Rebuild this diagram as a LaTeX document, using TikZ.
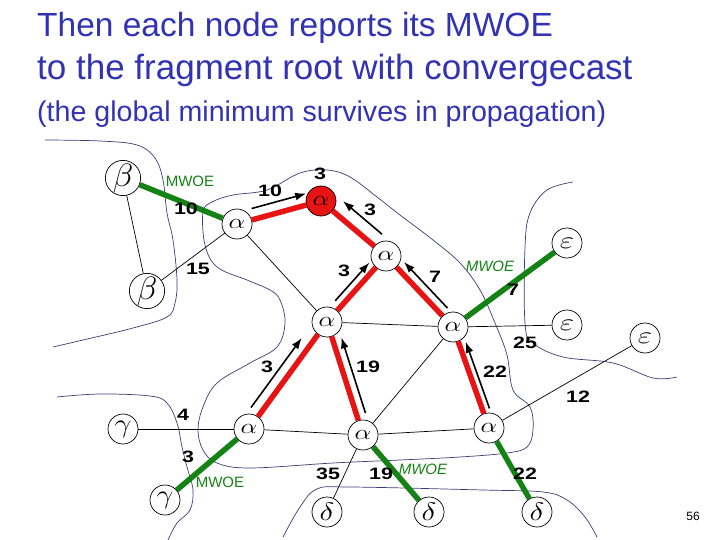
\documentclass[tikz,border=0pt]{standalone}
\usepackage{fontspec}
\usepackage{graphicx}
\setmainfont{Liberation Sans}
\usetikzlibrary{arrows.meta,calc}
\definecolor{titleblue}{RGB}{50,50,180}
\definecolor{mwoegreen}{RGB}{20,130,20}
\definecolor{tred}{RGB}{232,20,20}
\definecolor{bndcol}{RGB}{60,60,120}
\newcommand\wn[1]{\scalebox{1.3}[1]{#1}}
\newcommand\myalpha{\raisebox{-1.5pt}{\scalebox{2.2}[1.75]{$\alpha$}}}
\newcommand\mybeta{\scalebox{2.8}[2.7]{$\beta$}}
\newcommand\mygamma{\scalebox{2.5}[2.2]{$\gamma$}}
\newcommand\mydelta{\scalebox{2.6}[2.1]{$\delta$}}
\newcommand\myeps{\scalebox{2.6}[2.0]{$\varepsilon$}}
\begin{document}
\begin{tikzpicture}[x=1pt,y=-1pt,
  vtx/.style={circle,draw,line width=0.7pt,minimum size=30pt,inner sep=0pt,fill=white,font=\fontsize{12}{12}\selectfont},
  avtx/.style={vtx},
  rootvtx/.style={avtx,fill=tred},
  thinedge/.style={line width=0.7pt},
  tree/.style={tred,line width=5.5pt},
  mwoe/.style={mwoegreen,line width=5.5pt},
  rep/.style={-{Latex[length=11pt,width=8pt]},line width=1.6pt},
  wlab/.style={font=\fontsize{16.5}{16.5}\selectfont\bfseries,inner sep=0pt},
  mlab/.style={text=mwoegreen,font=\fontsize{15}{15}\selectfont,inner sep=0pt},
  ttl/.style={text=titleblue,anchor=base west,inner sep=0pt},
  bnd/.style={bndcol,line width=0.7pt}]
\useasboundingbox (0,0) rectangle (720,540);

% title
\node[ttl,font=\fontsize{33.5}{33.5}\selectfont] (t1) at (37,37) {Then each node reports its MWOE};
\node[ttl,font=\fontsize{35}{35}\selectfont] (t2) at (37,80) {to the fragment root with convergecast};
\node[ttl,font=\fontsize{28.6}{28.6}\selectfont] (t3) at (37,122) {(the global minimum survives in propagation)};

% fragment boundaries
\draw[bnd] plot[smooth,tension=0.6] coordinates {(45,140) (100,141) (137,145) (155,158) (163,180) (167,213) (173,240) (177,280) (175,303) (167,317) (133,328) (83,340) (53,347)};
\draw[bnd] plot[smooth cycle,tension=0.6] coordinates {(203,212) (212,202) (233,195) (267,190) (300,173) (327,170) (350,177) (377,197) (400,215) (433,240) (460,263) (480,290) (495,323) (507,355) (513,390) (530,407) (533,430) (527,447) (507,453) (460,457) (400,460) (333,463) (250,468) (217,463) (203,450) (198,430) (203,407) (217,383) (250,363) (277,347) (285,323) (280,300) (270,290) (247,280) (217,267) (205,245)};
\draw[bnd] plot[smooth,tension=0.6] coordinates {(57,397) (100,394) (150,396) (167,403) (177,423) (182,447) (187,467) (193,490) (190,510) (177,523) (168,540)};
\draw[bnd] plot[smooth,tension=0.6] coordinates {(573,182) (547,190) (530,213) (525,247) (525,323) (533,343) (563,357) (613,363) (653,378) (677,377)};
\draw[bnd] plot[smooth,tension=0.6] coordinates {(283,537) (300,507) (317,489) (350,487) (483,490) (543,492) (567,500) (585,517) (597,537)};

% nodes
\node[vtx] (b1) at (123,178) {\mybeta};
\node[vtx] (b2) at (147,291) {\mybeta};
\node[avtx] (a1) at (237,224) {\myalpha};
\node[rootvtx] (root) at (321,201) {\myalpha};
\node[avtx] (a2) at (386,256) {\myalpha};
\node[avtx] (a3) at (327,322) {\myalpha};
\node[avtx] (a4) at (453,327) {\myalpha};
\node[vtx] (e1) at (567,243) {\myeps};
\node[vtx] (e2) at (567,325) {\myeps};
\node[vtx] (e3) at (645,338) {\myeps};
\node[avtx] (a5) at (249,429) {\myalpha};
\node[avtx] (a6) at (363,435) {\myalpha};
\node[avtx] (a7) at (489,428) {\myalpha};
\node[vtx] (g1) at (123,429) {\mygamma};
\node[vtx] (g2) at (165,500) {\mygamma};
\node[vtx] (d1) at (327,512) {\mydelta};
\node[vtx] (d2) at (429,512) {\mydelta};
\node[vtx] (d3) at (537,512) {\mydelta};

% thin edges
\draw[thinedge] (b1) -- (b2);
\draw[thinedge] (b2) -- (a1);
\draw[thinedge] (a1) -- (a3);
\draw[thinedge] (a3) -- (a4);
\draw[thinedge] (a4) -- (e2);
\draw[thinedge] (a4) -- (a6);
\draw[thinedge] (a5) -- (g1);
\draw[thinedge] (a5) -- (a6);
\draw[thinedge] (a6) -- (a7);
\draw[thinedge] (a6) -- (d1);
\draw[thinedge] (a7) -- (e3);

% tree edges
\draw[tree] (a1) -- (root);
\draw[tree] (root) -- (a2);
\draw[tree] (a2) -- (a3);
\draw[tree] (a2) -- (a4);
\draw[tree] (a3) -- (a5);
\draw[tree] (a3) -- (a6);
\draw[tree] (a4) -- (a7);

% MWOE edges
\draw[mwoe] (b1) -- (a1);
\draw[mwoe] (a4) -- (e1);
\draw[mwoe] (a5) -- (g2);
\draw[mwoe] (a6) -- (d2);
\draw[mwoe] (a7) -- (d3);

% report arrows
\draw[rep] ($(a1)!0.21!(root)+(-3.1,-10.6)$) -- ($(a1)!0.86!(root)+(-3.1,-10.6)$);
\draw[rep] ($(a2)!0.20!(root)+(9,-10.8)$) -- ($(a2)!0.80!(root)+(9,-10.8)$);
\draw[rep] ($(a3)!0.24!(a2)+(-6,-5.3)$) -- ($(a3)!0.82!(a2)+(-6,-5.3)$);
\draw[rep] ($(a4)!0.18!(a2)+(6.6,-6.1)$) -- ($(a4)!0.83!(a2)+(6.6,-6.1)$);
\draw[rep] ($(a5)!0.14!(a3)+(-8.9,-6.5)$) -- ($(a5)!0.79!(a3)+(-8.9,-6.5)$);
\draw[rep] ($(a6)!0.17!(a3)+(8.6,-2.7)$) -- ($(a6)!0.84!(a3)+(8.6,-2.7)$);
\draw[rep] ($(a7)!0.17!(a4)+(6.6,-2.4)$) -- ($(a7)!0.83!(a4)+(6.6,-2.4)$);

% weights
\node[wlab] (w1) at (186,209) {\wn{10}};
\node[wlab] (w2) at (270,191) {\wn{10}};
\node[wlab] (w3) at (320,174) {\wn{3}};
\node[wlab] (w4) at (370,210) {\wn{3}};
\node[wlab] (w5) at (198,269) {\wn{15}};
\node[wlab] (w6) at (344,271) {\wn{3}};
\node[wlab] (w7) at (435,277) {\wn{7}};
\node[wlab] (w8) at (513,290) {\wn{7}};
\node[wlab] (w9) at (525,343) {\wn{25}};
\node[wlab] (w10) at (368,367) {\wn{19}};
\node[wlab] (w11) at (495,372) {\wn{22}};
\node[wlab] (w12) at (578,397) {\wn{12}};
\node[wlab] (w13) at (267,367) {\wn{3}};
\node[wlab] (w14) at (183,415) {\wn{4}};
\node[wlab] (w15) at (188,457) {\wn{3}};
\node[wlab] (w16) at (328,474) {\wn{35}};
\node[wlab] (w17) at (381,474) {\wn{19}};
\node[wlab] (w18) at (525,474) {\wn{22}};

% MWOE labels
\node[mlab] (m1) at (190,181) {MWOE};
\node[mlab,font=\fontsize{15}{15}\selectfont\itshape] (m2) at (490,266) {MWOE};
\node[mlab] (m3) at (220,482) {MWOE};
\node[mlab,font=\fontsize{15}{15}\selectfont\itshape] (m4) at (423,469) {MWOE};

% page number
\node[font=\fontsize{12}{12}\selectfont,inner sep=0pt] (pg) at (693,516) {56};
\end{tikzpicture}
\end{document}
